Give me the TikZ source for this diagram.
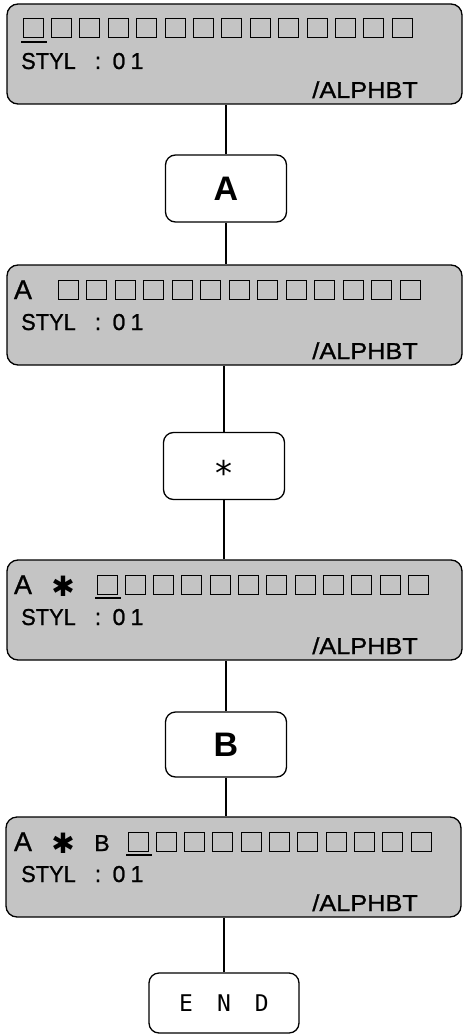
\documentclass[tikz,border=0pt]{standalone}
\usepackage{fontspec}
\setmainfont{Liberation Sans}
\newfontfamily\lcdf[FakeBold=1]{Liberation Sans}
\newfontfamily\djv{DejaVu Sans}
\newfontfamily\monof{DejaVu Sans Mono}
\begin{document}
\begin{tikzpicture}[x=1pt,y=-1pt,
  disp/.style={draw, line width=1.3pt, rounded corners=11pt, fill=black!23, minimum width=455pt, minimum height=100pt, inner sep=0pt},
  keybox/.style={draw, line width=1.3pt, rounded corners=10pt, fill=white, minimum width=121pt, minimum height=67pt, inner sep=0pt},
  sqr/.style={draw, line width=1pt},
  cur/.style={line width=2pt},
  lcd/.style={font=\lcdf\fontsize{23}{23}\selectfont, inner sep=0pt},
  lcdbig/.style={font=\lcdf\fontsize{27}{27}\selectfont, inner sep=0pt},
  star/.style={font=\djv\fontsize{28}{28}\selectfont, inner sep=0pt},
  conn/.style={line width=1.1pt}]
\useasboundingbox (0,0) rectangle (463,1035);

% ---------- display 1 ----------
\node[disp] (d1) at (234.5,54) {};
\foreach \i in {0,...,13} \draw[sqr] ({23+28.4*\i},19) rectangle ++(20,19);
\draw[cur] (21,42) -- (47,42);
\node[lcd, anchor=base west] (d1s) at (21,69) {\scalebox{0.95}[1]{STYL}};
\node[lcd, anchor=base] (d1c) at (98,69) {:};
\node[lcd, anchor=base] (d1z) at (119,69) {0};
\node[lcd, anchor=base] (d1o) at (137,69) {1};
\node[lcd, anchor=base east] (d1a) at (418,98) {\scalebox{1.1}[1]{/ALPHBT}};

% ---------- key A ----------
\node[keybox, font=\bfseries\fontsize{34}{34}\selectfont] (ka) at (226,188.5) {A};

% ---------- display 2 ----------
\node[disp] (d2) at (234.5,315) {};
\node[lcdbig, anchor=base] (d2A) at (23,299) {A};
\foreach \i in {0,...,12} \draw[sqr] ({58+28.5*\i},280) rectangle ++(20,19);
\node[lcd, anchor=base west] (d2s) at (21,330) {\scalebox{0.95}[1]{STYL}};
\node[lcd, anchor=base] (d2c) at (98,330) {:};
\node[lcd, anchor=base] (d2z) at (119,330) {0};
\node[lcd, anchor=base] (d2o) at (137,330) {1};
\node[lcd, anchor=base east] (d2a) at (418,359) {\scalebox{1.1}[1]{/ALPHBT}};

% ---------- key * ----------
\node[keybox] (kast) at (224,466) {\djv\fontsize{34}{34}\selectfont\smash{\raisebox{-0.56em}{*}}};

% ---------- display 3 ----------
\node[disp] (d3) at (234.5,610) {};
\node[lcdbig, anchor=base] (d3A) at (23,594) {A};
\node[star, anchor=base] (d3x) at (63,596) {✱};
\foreach \i in {0,...,11} \draw[sqr] ({97+28.3*\i},575) rectangle ++(20,19);
\draw[cur] (95,598) -- (121,598);
\node[lcd, anchor=base west] (d3s) at (21,625) {\scalebox{0.95}[1]{STYL}};
\node[lcd, anchor=base] (d3c) at (98,625) {:};
\node[lcd, anchor=base] (d3z) at (119,625) {0};
\node[lcd, anchor=base] (d3o) at (137,625) {1};
\node[lcd, anchor=base east] (d3a) at (418,654) {\scalebox{1.1}[1]{/ALPHBT}};

% ---------- key B ----------
\node[keybox, minimum height=65pt, font=\bfseries\fontsize{34}{34}\selectfont] (kb) at (226,744.5) {B};

% ---------- display 4 ----------
\node[disp] (d4) at (233.5,867) {};
\node[lcdbig, anchor=base] (d4A) at (23,851) {A};
\node[star, anchor=base] (d4x) at (63,853) {✱};
\node[lcd, anchor=base] (d4B) at (102,851) {B};
\foreach \i in {0,...,10} \draw[sqr] ({128+28.3*\i},832) rectangle ++(20,19);
\draw[cur] (126,855) -- (152,855);
\node[lcd, anchor=base west] (d4s) at (21,882) {\scalebox{0.95}[1]{STYL}};
\node[lcd, anchor=base] (d4c) at (98,882) {:};
\node[lcd, anchor=base] (d4z) at (119,882) {0};
\node[lcd, anchor=base] (d4o) at (137,882) {1};
\node[lcd, anchor=base east] (d4a) at (418,911) {\scalebox{1.1}[1]{/ALPHBT}};

% ---------- END ----------
\node[keybox, minimum width=150pt, minimum height=60pt, font=\monof\fontsize{23}{23}\selectfont] (kend) at (224,1003) {E\hspace{24pt}N\hspace{24pt}D};

% ---------- connectors ----------
\draw[conn] (ka.north) -- (ka.north |- d1.south);
\draw[conn] (ka.south) -- (ka.south |- d2.north);
\draw[conn] (kast.north) -- (kast.north |- d2.south);
\draw[conn] (kast.south) -- (kast.south |- d3.north);
\draw[conn] (kb.north) -- (kb.north |- d3.south);
\draw[conn] (kb.south) -- (kb.south |- d4.north);
\draw[conn] (kend.north) -- (kend.north |- d4.south);
\end{tikzpicture}
\end{document}
